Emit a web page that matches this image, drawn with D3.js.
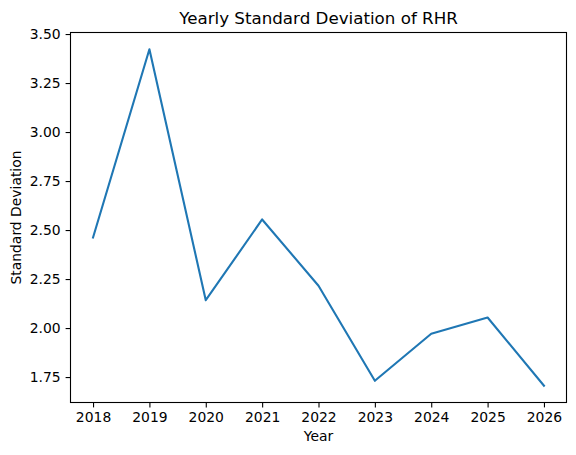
<!DOCTYPE html>
<html><head><meta charset="utf-8">
<script src="https://cdn.jsdelivr.net/npm/d3@7"></script>
<style>body{margin:0;background:#fff}svg{display:block;font-family:"DejaVu Sans",sans-serif}</style>
</head><body>
<svg id="c" width="576" height="455"></svg>
<script>
const years = [2018, 2019, 2020, 2021, 2022, 2023, 2024, 2025, 2026];
const stdValues = [2.462, 3.422, 2.142, 2.554, 2.216, 1.731, 1.971, 2.054, 1.706];
const yTicks = [1.75, 2.00, 2.25, 2.50, 2.75, 3.00, 3.25, 3.50];

const svg = d3.select("#c");
const L = 70.5, R = 566.5, T = 32.5, B = 402.5;
const x = d3.scaleLinear().domain([2018 - 0.4, 2026 + 0.4]).range([L, R]);
const ymin = d3.min(stdValues), ymax = d3.max(stdValues), pad = (ymax - ymin) * 0.05;
const y = d3.scaleLinear().domain([ymin - pad, ymax + pad]).range([B, T]);

const gx = svg.append("g").attr("transform", `translate(0,${B})`)
  .call(d3.axisBottom(x).tickValues(years).tickFormat(d3.format("d")).tickSize(4.9).tickPadding(4.9));
const gy = svg.append("g").attr("transform", `translate(${L},0)`)
  .call(d3.axisLeft(y).tickValues(yTicks).tickFormat(d3.format(".2f")).tickSize(4.9).tickPadding(4.9));
[gx, gy].forEach(g => {
  g.select(".domain").remove();
  g.selectAll("line").attr("stroke", "#000").attr("stroke-width", 1.1);
  g.selectAll("text").attr("fill", "#000").style("font-size", "13.9px").style("font-family", "DejaVu Sans");
});

svg.append("path").datum(years.map((d, i) => [d, stdValues[i]]))
  .attr("fill", "none").attr("stroke", "#1f77b4").attr("stroke-width", 2.1)
  .attr("stroke-linejoin", "round").attr("stroke-linecap", "square")
  .attr("d", d3.line().x(d => x(d[0])).y(d => y(d[1])));

svg.append("rect").attr("x", L).attr("y", T).attr("width", R - L).attr("height", B - T)
  .attr("fill", "none").attr("stroke", "#000").attr("stroke-width", 1.1);

svg.append("text").attr("x", (L + R) / 2).attr("y", 24).attr("text-anchor", "middle")
  .style("font-size", "16.7px").text("Yearly Standard Deviation of RHR");
svg.append("text").attr("x", (L + R) / 2).attr("y", 441).attr("text-anchor", "middle")
  .style("font-size", "13.9px").text("Year");
svg.append("text").attr("transform", `translate(21,${(T + B) / 2}) rotate(-90)`).attr("text-anchor", "middle")
  .style("font-size", "13.9px").text("Standard Deviation");
</script>
</body></html>
